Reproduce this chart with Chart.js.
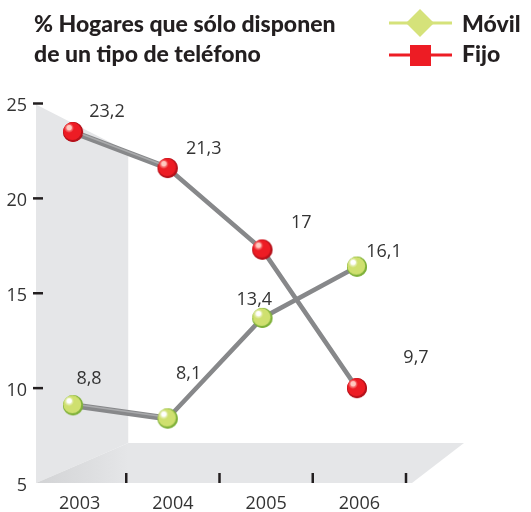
<!DOCTYPE html>
<html><head><meta charset="utf-8">
<style>html,body{margin:0;padding:0;background:#fff}canvas{display:block}</style>
<script src="https://cdn.jsdelivr.net/npm/chart.js@4"></script></head>
<body><canvas id="c" width="531" height="512"></canvas>
<script>
const years = ['2003','2004','2005','2006'];
const fijo = [23.2,21.3,17,9.7];
const movil = [8.8,8.1,13.4,16.1];
const yTicks = [5,10,15,20,25];
const titleLines = ['% Hogares que sólo disponen','de un tipo de teléfono'];
const fijoLabelOffsets = [[34,-20],[36,-19],[39,-27],[59,-30]];
const movilLabelOffsets = [[16,-26],[21,-45],[-8,-18],[27,-15]];
const labelFont = '18px "Open Sans"';
const boldFont = '900 23px "Lato"';
const ink = '#231f20';
const lineGrey = '#87888a';

function ball(base, dark, light){
  const k=document.createElement('canvas');k.width=k.height=24;
  const g=k.getContext('2d');
  g.fillStyle=dark;g.beginPath();g.arc(12,12,10,0,7);g.fill();
  g.fillStyle=base;g.beginPath();g.arc(11.3,11.2,8.9,0,7);g.fill();
  const r=g.createRadialGradient(8,8,1,8,8,5);r.addColorStop(0,light);r.addColorStop(1,light+'00');
  g.fillStyle=r;g.beginPath();g.arc(8,8,5,0,7);g.fill();
  g.fillStyle=light;g.beginPath();g.arc(8.2,7.6,2.6,0,7);g.fill();
  return k;
}
const toPts = a => a.map((v,i)=>({x:Number(years[i]),y:v}));
const lineSet = (label,data,img,off) => ({label,data:toPts(data),xAxisID:'xp',yAxisID:'yp',
  borderColor:lineGrey,borderWidth:4.5,pointStyle:img,pointRadius:12,pointHoverRadius:12,tension:0,valueOffsets:off,
  segment:{borderWidth:s=>s.p0DataIndex===0?6:4.5}});

const backdrop={id:'backdrop',beforeDatasetsDraw(c){
  const x=c.scales.x,y=c.scales.y,g=c.ctx;
  const top=y.getPixelForValue(25),bot=y.getPixelForValue(5),band=(x.getPixelForValue(1)-x.getPixelForValue(0));
  const L=36,W=x.getPixelForValue(0)+band/2+2,back=bot-40;
  g.save();
  g.fillStyle='#e5e6e8';
  g.beginPath();g.moveTo(L,top+1);g.lineTo(W,top+48);g.lineTo(W,back);g.lineTo(L,bot);g.closePath();g.fill();
  const f=g.createLinearGradient(L,0,W,0);f.addColorStop(0,'#d2d3d5');f.addColorStop(1,'#e5e6e8');
  g.fillStyle=f;
  g.beginPath();g.moveTo(L,bot);g.lineTo(W,back);g.lineTo(464,back);g.lineTo(412,bot);g.closePath();g.fill();
  g.strokeStyle=ink;g.lineWidth=2.5;
  y.ticks.forEach(t=>{ if(t.value===5)return; const p=y.getPixelForValue(t.value);g.beginPath();g.moveTo(33,p);g.lineTo(43,p);g.stroke();});
  years.forEach((_,i)=>{const p=x.getPixelForValue(i)+band/2;g.beginPath();g.moveTo(p,bot-10);g.lineTo(p,bot);g.stroke();});
  g.restore();
}};
const annot={id:'annot',afterDatasetsDraw(c){
  const g=c.ctx;g.save();
  // tube highlight on the front segments, then the balls again on top
  c.data.datasets.forEach((d,di)=>{const m=c.getDatasetMeta(di),a=m.data[0],b=m.data[1];
    g.strokeStyle='#a9aaac';g.lineWidth=1.6;g.beginPath();g.moveTo(a.x,a.y-1.2);g.lineTo(b.x,b.y-1.2);g.stroke();
    m.data.forEach(e=>e.draw(g,c.chartArea));});
  g.restore();
},afterDraw(c){
  const g=c.ctx;g.save();
  g.fillStyle=ink;g.font=boldFont;g.textAlign='left';g.textBaseline='alphabetic';
  titleLines.forEach((t,i)=>g.fillText(t,34,32+i*30));
  g.fillText(c.data.datasets[0].label,462,32);
  g.fillText(c.data.datasets[1].label,462,62);
  g.fillStyle='#d5e27a';g.fillRect(389,21.5,63,3);
  g.beginPath();g.moveTo(420,9);g.lineTo(434,23);g.lineTo(420,37);g.lineTo(406,23);g.closePath();g.fill();
  g.fillStyle='#ed1c24';g.fillRect(389,53.5,63,3);g.fillRect(410,45,21,21);
  g.font=labelFont;g.fillStyle='#333';g.textAlign='center';g.textBaseline='middle';
  c.data.datasets.forEach((d,di)=>{const m=c.getDatasetMeta(di);
    d.data.forEach((p,i)=>{const e=m.data[i],o=d.valueOffsets[i];
      g.fillText(String(p.y).replace('.',','),e.x+o[0],e.y+o[1]);});});
  g.restore();
}};
new Chart(document.getElementById('c'),{type:'line',
 data:{labels:years,datasets:[
  lineSet('Móvil',movil,ball('#cfe06f','#7fb13a','#ffffff'),movilLabelOffsets),
  lineSet('Fijo',fijo,ball('#ed1c24','#b5121b','#ffc9c0'),fijoLabelOffsets)]},
 plugins:[backdrop,annot],
 options:{responsive:false,animation:false,
  layout:{padding:{top:103.5,right:125,left:0,bottom:0}},
  plugins:{legend:{display:false},title:{display:false},tooltip:{enabled:false}},
  scales:{
   x:{type:'category',offset:true,grid:{display:false,drawTicks:false},border:{display:false},
      afterFit(s){s.height=29},
      ticks:{padding:10,color:'#333',font:{family:'"Open Sans"',size:18},maxRotation:0}},
   y:{min:5,max:25,grid:{display:false,drawTicks:false},border:{display:false},
      afterFit(s){s.width=33},
      afterBuildTicks(s){s.ticks=yTicks.map(v=>({value:v}))},
      ticks:{padding:6,labelOffset:2.5,color:'#333',font:{family:'"Open Sans"',size:18}}},
   xp:{type:'linear',display:false,min:2002.577,max:2006.518},
   yp:{type:'linear',display:false,min:4.7,max:24.7}
  }}});
</script></body></html>
